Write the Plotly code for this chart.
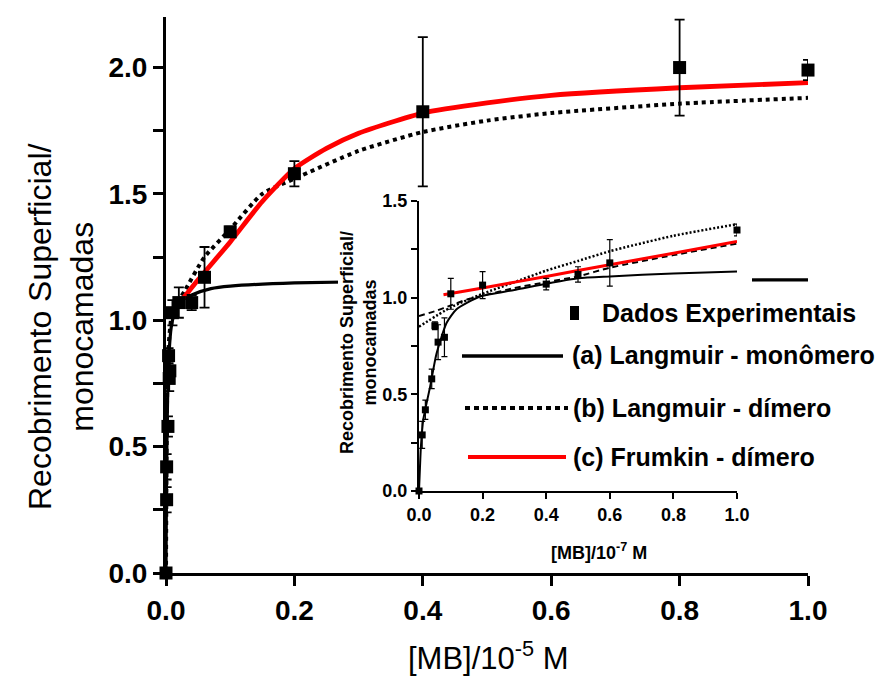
import plotly.graph_objects as go

W, H = 876, 677

# ---------------- data: main plot (x in 10^-5 M) ----------------
main_x = [0.0, 0.001, 0.001, 0.003, 0.005, 0.006, 0.004, 0.01, 0.02, 0.04, 0.06, 0.1, 0.2, 0.4, 0.8, 1.0]
main_y = [0.0, 0.29, 0.42, 0.58, 0.77, 0.80, 0.86, 1.03, 1.07, 1.07, 1.17, 1.35, 1.58, 1.825, 2.0, 1.99]
main_err = [0.0, 0.05, 0.05, 0.04, 0.05, 0.05, 0.03, 0.05, 0.06, 0.03, 0.12, 0.02, 0.05, 0.295, 0.19, 0.04]

# fitted curves
lang_mono_x = [0, 0.0005, 0.001, 0.002, 0.003, 0.005, 0.008, 0.012, 0.02, 0.04, 0.07, 0.1, 0.2, 0.4, 0.7, 1.0]
lang_mono_y = [0, 0.25, 0.42, 0.62, 0.75, 0.88, 0.97, 1.02, 1.07, 1.10, 1.125, 1.135, 1.148, 1.155, 1.158, 1.16]
lang_dim_x = [0, 0.001, 0.003, 0.01, 0.03, 0.06, 0.1, 0.15, 0.2, 0.3, 0.4, 0.5, 0.6, 0.8, 1.0]
lang_dim_y = [0, 0.5, 0.85, 1.03, 1.12, 1.25, 1.36, 1.50, 1.56, 1.67, 1.745, 1.79, 1.82, 1.857, 1.88]
frum_dim_x = [0.006, 0.05, 0.1, 0.15, 0.2, 0.25, 0.3, 0.4, 0.5, 0.6, 0.8, 1.0]
frum_dim_y = [1.02, 1.16, 1.31, 1.47, 1.60, 1.68, 1.74, 1.82, 1.86, 1.89, 1.92, 1.94]

# ---------------- data: inset (x in 10^-7 M) ----------------
ins_x = [0, 0.01, 0.02, 0.04, 0.05, 0.06, 0.08, 0.1, 0.2, 0.4, 0.5, 0.6, 1.0]
ins_y = [0, 0.29, 0.42, 0.58, 0.855, 0.77, 0.795, 1.02, 1.065, 1.07, 1.12, 1.18, 1.35]
ins_err = [0, 0.07, 0.05, 0.05, 0.02, 0.09, 0.10, 0.08, 0.07, 0.03, 0.04, 0.12, 0.03]

ins_mono_x = [0, 0.003, 0.006, 0.0136, 0.035, 0.055, 0.087, 0.118, 0.19, 0.3, 0.5, 0.6, 0.8, 1.0]
ins_mono_y = [0, 0.12, 0.23, 0.37, 0.54, 0.71, 0.87, 0.94, 1.005, 1.04, 1.10, 1.11, 1.125, 1.135]
ins_dim_x = [0, 0.1, 0.2, 0.3, 0.4, 0.5, 0.6, 0.8, 1.0]
ins_dim_y = [0.85, 0.95, 1.02, 1.08, 1.14, 1.19, 1.24, 1.32, 1.38]
ins_dash_x = [0, 0.05, 0.1, 0.15, 0.2, 0.3, 0.4, 0.5, 0.6, 0.8, 1.0]
ins_dash_y = [0.905, 0.93, 0.96, 0.99, 1.01, 1.05, 1.08, 1.11, 1.155, 1.22, 1.28]
ins_frum_x = [0.077, 0.2, 0.4, 0.6, 0.8, 1.0]
ins_frum_y = [1.015, 1.05, 1.11, 1.17, 1.23, 1.29]

legend_labels = ["Dados Experimentais", "(a) Langmuir - monômero",
                 "(b) Langmuir - dímero", "(c) Frumkin - dímero"]

ARIAL = "Liberation Sans, Arial, sans-serif"


def px(x):
    return x / W


def py(y):
    return 1 - y / H


fig = go.Figure()

# main plot
fig.add_trace(go.Scatter(x=lang_mono_x, y=lang_mono_y, mode="lines", line=dict(color="black", width=3.2, shape="spline", smoothing=0.6),
                         showlegend=False, hoverinfo="skip"))
fig.add_trace(go.Scatter(x=lang_dim_x, y=lang_dim_y, mode="lines", line=dict(color="black", width=4, dash="4px,4px", shape="spline", smoothing=0.6),
                         showlegend=False, hoverinfo="skip"))
fig.add_trace(go.Scatter(x=frum_dim_x, y=frum_dim_y, mode="lines", line=dict(color="#ff0000", width=4.8, shape="spline", smoothing=0.6),
                         showlegend=False, hoverinfo="skip"))
fig.add_trace(go.Scatter(x=main_x, y=main_y, mode="markers", cliponaxis=False,
                         marker=dict(symbol="square", size=13, color="black"),
                         error_y=dict(type="data", array=main_err, color="black", thickness=1.8, width=5),
                         showlegend=False))

# white cover subplot (hides main curves behind inset)
fig.add_trace(go.Scatter(x=[None], y=[None], xaxis="x2", yaxis="y2", showlegend=False, hoverinfo="skip"))

# inset
fig.add_trace(go.Scatter(x=ins_mono_x, y=ins_mono_y, xaxis="x3", yaxis="y3", mode="lines",
                         line=dict(color="black", width=2, shape="spline", smoothing=0.6), showlegend=False, hoverinfo="skip"))
fig.add_trace(go.Scatter(x=ins_dim_x, y=ins_dim_y, xaxis="x3", yaxis="y3", mode="lines",
                         line=dict(color="black", width=2.5, dash="2px,2px", shape="spline", smoothing=0.6), showlegend=False, hoverinfo="skip"))
fig.add_trace(go.Scatter(x=ins_dash_x, y=ins_dash_y, xaxis="x3", yaxis="y3", mode="lines",
                         line=dict(color="black", width=2, dash="6px,4px", shape="spline", smoothing=0.6), showlegend=False, hoverinfo="skip"))
fig.add_trace(go.Scatter(x=ins_frum_x, y=ins_frum_y, xaxis="x3", yaxis="y3", mode="lines",
                         line=dict(color="#ff0000", width=3, shape="spline", smoothing=0.6), showlegend=False, hoverinfo="skip"))
fig.add_trace(go.Scatter(x=ins_x, y=ins_y, xaxis="x3", yaxis="y3", mode="markers", cliponaxis=False,
                         marker=dict(symbol="square", size=7, color="black"),
                         error_y=dict(type="data", array=ins_err, color="black", thickness=1.2, width=3),
                         showlegend=False))

axis_common = dict(showline=True, linecolor="black", ticks="outside", tickcolor="black",
                   showgrid=False, zeroline=False, fixedrange=True, automargin=False)
main_font = dict(family=ARIAL, size=28, color="black", weight="bold")
ins_font = dict(family=ARIAL, size=18, color="black", weight="bold")

fig.update_layout(
    width=W, height=H,
    margin=dict(l=0, r=0, t=0, b=0, pad=0, autoexpand=False),
    paper_bgcolor="white", plot_bgcolor="white",
    showlegend=False,
    xaxis=dict(**axis_common, domain=[px(166), px(808)], range=[0, 1.0], anchor="y",
               linewidth=3, tickwidth=2.5, ticklen=10,
               tickmode="linear", tick0=0, dtick=0.2, tickformat=".1f", tickfont=main_font),
    yaxis=dict(**axis_common, domain=[py(573), py(17)], range=[0, 2.2], anchor="x",
               linewidth=3, tickwidth=2.5, ticklen=10,
               tickmode="linear", tick0=0, dtick=0.5, tickformat=".1f", tickfont=main_font,
               minor=dict(ticks="outside", dtick=0.25, tick0=0, ticklen=10, tickwidth=2.5, tickcolor="black", showgrid=False)),
    xaxis2=dict(visible=False, domain=[px(338), px(752)], range=[0, 1], anchor="y2", fixedrange=True, automargin=False),
    yaxis2=dict(visible=False, domain=[py(568), py(190)], range=[0, 1], anchor="x2", fixedrange=True, automargin=False),
    xaxis3=dict(**axis_common, domain=[px(419), px(737)], range=[0, 1.0], anchor="y3",
                linewidth=2, tickwidth=2, ticklen=6,
                tickmode="linear", tick0=0, dtick=0.2, tickformat=".1f", tickfont=ins_font),
    yaxis3=dict(**axis_common, domain=[py(491), py(201)], range=[0, 1.5], anchor="x3",
                linewidth=2, tickwidth=2, ticklen=6,
                tickmode="linear", tick0=0, dtick=0.5, tickformat=".1f", tickfont=ins_font,
                minor=dict(ticks="outside", dtick=0.25, tick0=0, ticklen=6, tickwidth=2, tickcolor="black", showgrid=False)),
)

annotations = [
    dict(text="Recobrimento Superficial/<br>monocamadas", x=px(61), y=py(327), xref="paper", yref="paper",
         textangle=-90, showarrow=False, xanchor="center", yanchor="middle",
         font=dict(family=ARIAL, size=32, color="black")),
    dict(text="[MB]/10<sup>-5</sup> M", x=px(488), y=py(656), xref="paper", yref="paper",
         showarrow=False, xanchor="center", yanchor="middle",
         font=dict(family=ARIAL, size=31, color="black")),
    dict(text="Recobrimento Superficial/<br>monocamadas", x=px(358), y=py(343), xref="paper", yref="paper",
         textangle=-90, showarrow=False, xanchor="center", yanchor="middle",
         font=dict(family=ARIAL, size=18, color="black", weight="bold")),
    dict(text="[MB]/10<sup>-7</sup> M", x=px(599), y=py(551), xref="paper", yref="paper",
         showarrow=False, xanchor="center", yanchor="middle",
         font=dict(family=ARIAL, size=18, color="black", weight="bold")),
]
legend_y = [313, 355, 408, 457]
legend_x = [600, 570, 571, 571]
for lab, lx, ly in zip(legend_labels, legend_x, legend_y):
    annotations.append(dict(text=lab, x=px(lx), y=py(ly), xref="paper", yref="paper",
                            showarrow=False, xanchor="left", yanchor="middle",
                            font=dict(family=ARIAL, size=25, color="black", weight="bold")))
fig.update_layout(annotations=annotations)

shapes = [
    dict(type="rect", xref="paper", yref="paper", x0=px(570), x1=px(579), y0=py(320), y1=py(306),
         fillcolor="black", line=dict(width=0)),
    dict(type="line", xref="paper", yref="paper", x0=px(462), x1=px(563), y0=py(356), y1=py(356),
         line=dict(color="black", width=3.5)),
    dict(type="line", xref="paper", yref="paper", x0=px(465), x1=px(568), y0=py(408), y1=py(408),
         line=dict(color="black", width=4, dash="5px,4px")),
    dict(type="line", xref="paper", yref="paper", x0=px(468), x1=px(566), y0=py(457), y1=py(457),
         line=dict(color="#ff0000", width=4)),
]
fig.update_layout(shapes=[dict(s, layer="above") for s in shapes])

fig.write_html("out.html")
